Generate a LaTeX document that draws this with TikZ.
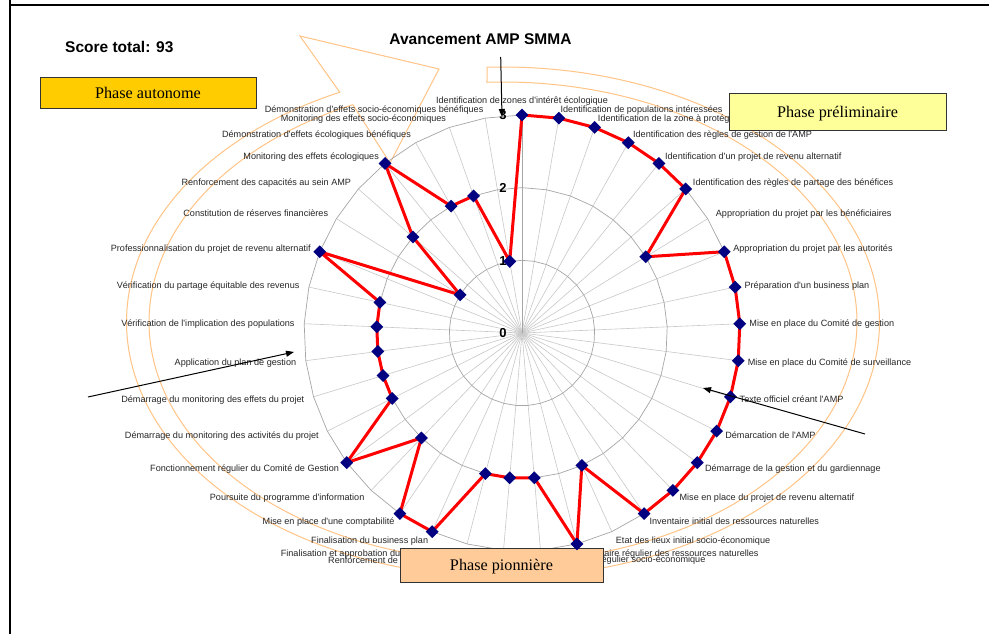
\documentclass[tikz,border=0pt]{standalone}
\usepackage{fontspec}
\newfontfamily\labelfont{Liberation Sans}
\newfontfamily\boxfont{Liberation Serif}
\usetikzlibrary{arrows.meta,shapes.geometric}

\definecolor{ringgray}{HTML}{A6A6A6}
\definecolor{spokegray}{HTML}{C8C8C8}
\definecolor{seriesred}{HTML}{FF0000}
\definecolor{markernavy}{HTML}{000080}
\definecolor{phasearc}{HTML}{FFC486}
\definecolor{autonomefill}{HTML}{FFCC00}
\definecolor{prelimfill}{HTML}{FFFF99}
\definecolor{pionfill}{HTML}{FFCC99}

\tikzset{
  catlabel/.style={font=\labelfont\fontsize{9.1}{10}\selectfont, inner sep=0pt,
    text height=6.5pt, text depth=0pt, text=black!85},
  axisnum/.style={font=\labelfont\bfseries\fontsize{13}{15}\selectfont, inner sep=0pt},
  heading/.style={font=\labelfont\bfseries\fontsize{15.5}{18}\selectfont, inner sep=0pt},
  phasebox/.style={draw=black!80, line width=1pt, inner sep=0pt, text height=11pt,
    text depth=0pt, font=\boxfont\fontsize{16.2}{19}\selectfont},
  datamark/.style={diamond, fill=markernavy, inner sep=0pt, minimum width=13pt, minimum height=13pt},
  pointer/.style={draw=black, line width=1pt, -{Triangle[length=8pt,width=6pt]}},
}

\begin{document}
\begin{tikzpicture}[x=1pt,y=-1pt]
\useasboundingbox (0,0) rectangle (989,634);
\fill[white] (0,0) rectangle (989,634);

% page frame
\draw[line width=2.4pt] (9.7,0) -- (9.7,634);
\draw[line width=2pt] (9.7,4.8) -- (989,4.8);

% circular block arrow running clockwise round the chart
\draw[phasearc, line width=1pt, line join=miter]
  plot[domain=-92.4:244.3, samples=240] ({503+376.5*cos(\x)},{322+255*sin(\x)})
  -- (300,36) -- (439,69) -- (390,163)
  -- plot[domain=244.9:-92.6, samples=240] ({503+354*cos(\x)},{322+240*sin(\x)})
  -- cycle;

% radar grid: 37 spokes and three rings
\coordinate (c) at (522,333);
\foreach \k in {0,...,36}
  \draw[spokegray, line width=0.6pt] (c) -- ({522+218*sin(\k*360/37)},{333-218*cos(\k*360/37)});
\foreach \r in {1,2,3}
  \draw[ringgray, line width=0.7pt]
    plot[samples at={0,...,36}, variable=\k] ({522+\r*72.67*sin(\k*360/37)},{333-\r*72.67*cos(\k*360/37)}) -- cycle;
\coordinate (axistop) at (522,115);
\draw[ringgray, line width=0.8pt] (c) -- (axistop);

% scores per criterion
\foreach \v [count=\n from 0] in {3,3,3,3,3,3,2,3,3,3,3,3,3,3,3,3,2,3,2,2,2,3,3,2,3,2,2,2,2,2,3,1,2,3,2,2,1}
  \coordinate (p\n) at ({522+\v*72.67*sin(\n*360/37)},{333-\v*72.67*cos(\n*360/37)});
\draw[seriesred, line width=3pt, line join=round] (p0) \foreach \n in {1,...,36}{ -- (p\n)} -- cycle;

% category labels
\node[catlabel, anchor=base] (l0) at (522,103.3) {Identification de zones d'intérêt écologique};
\foreach \n/\t in {
  1/Identification de populations intéressées,
  2/Identification de la zone à protéger,
  3/Identification des règles de gestion de l'AMP,
  4/Identification d'un projet de revenu alternatif,
  5/Identification des règles de partage des bénéfices,
  6/Appropriation du projet par les bénéficiaires,
  7/Appropriation du projet par les autorités,
  8/Préparation d'un business plan,
  9/Mise en place du Comité de gestion,
  10/Mise en place du Comité de surveillance,
  11/Texte officiel créant l'AMP,
  12/Démarcation de l'AMP,
  13/Démarrage de la gestion et du gardiennage,
  14/Mise en place du projet de revenu alternatif,
  15/Inventaire initial des ressources naturelles,
  16/Etat des lieux initial socio-économique,
  17/Inventaire régulier des ressources naturelles,
  18/Etat des lieux régulier socio-économique,
  20/Finalisation et approbation du plan de gestion,
  21/Finalisation du business plan,
  22/Mise en place d'une comptabilité,
  23/Poursuite du programme d'information,
  24/Fonctionnement régulier du Comité de Gestion,
  25/Démarrage du monitoring des activités du projet,
  26/Démarrage du monitoring des effets du projet,
  27/Application du plan de gestion,
  28/Vérification de l'implication des populations,
  29/Vérification du partage équitable des revenus,
  30/Professionnalisation du projet de revenu alternatif,
  31/Constitution de réserves financières,
  32/Renforcement des capacités au sein AMP,
  33/Monitoring des effets écologiques,
  34/Démonstration d'effets écologiques bénéfiques,
  35/Monitoring des effets socio-économiques,
  36/Démonstration d'effets socio-économiques bénéfiques}{
  \pgfmathsetmacro\ang{\n*360/37}
  \ifnum\n<19 \def\anc{west}\else\def\anc{east}\fi
  \node[catlabel, anchor=\anc] (l\n) at ({522+227.5*sin(\ang)},{333-227.5*cos(\ang)}) {\t};
}
\node[catlabel, anchor=west] (l19) at (328,560) {Renforcement de};

% value axis
\node[axisnum] (v0) at (503,333) {0};
\node[axisnum] (v1) at (503,261) {1};
\node[axisnum] (v2) at (503,188) {2};
\node[axisnum] (v3) at (503,115.5) {3};

% phase boxes
\node[phasebox, fill=autonomefill, minimum width=216pt, minimum height=31pt] (autonome) at (148,93.5) {Phase autonome};
\node[phasebox, fill=prelimfill, minimum width=217pt, minimum height=36pt] (prelim) at (837.5,112) {Phase préliminaire};
\node[phasebox, fill=pionfill, minimum width=203pt, minimum height=34pt] (pionniere) at (501.5,565) {Phase pionnière};

% data markers
\foreach \n in {0,...,36}
  \node[datamark] (m\n) at (p\n) {};

% headings
\node[heading, anchor=base] (title) at (480.5,45) {Avancement AMP SMMA};
\node[heading, anchor=base west] (score) at (65,52.5) {Score total: 93};

% pointers
\coordinate (leftTail) at (88,397);
\coordinate (leftTip) at (294,352);
\coordinate (rightTail) at (865,434);
\coordinate (rightTip) at (703,388);
\coordinate (topTail) at (500.7,57);
\coordinate (topTip) at (502,117);
\draw[pointer] (leftTail) -- (leftTip);
\draw[pointer] (rightTail) -- (rightTip);
\draw[pointer] (topTail) -- (topTip);
\end{tikzpicture}
\end{document}
